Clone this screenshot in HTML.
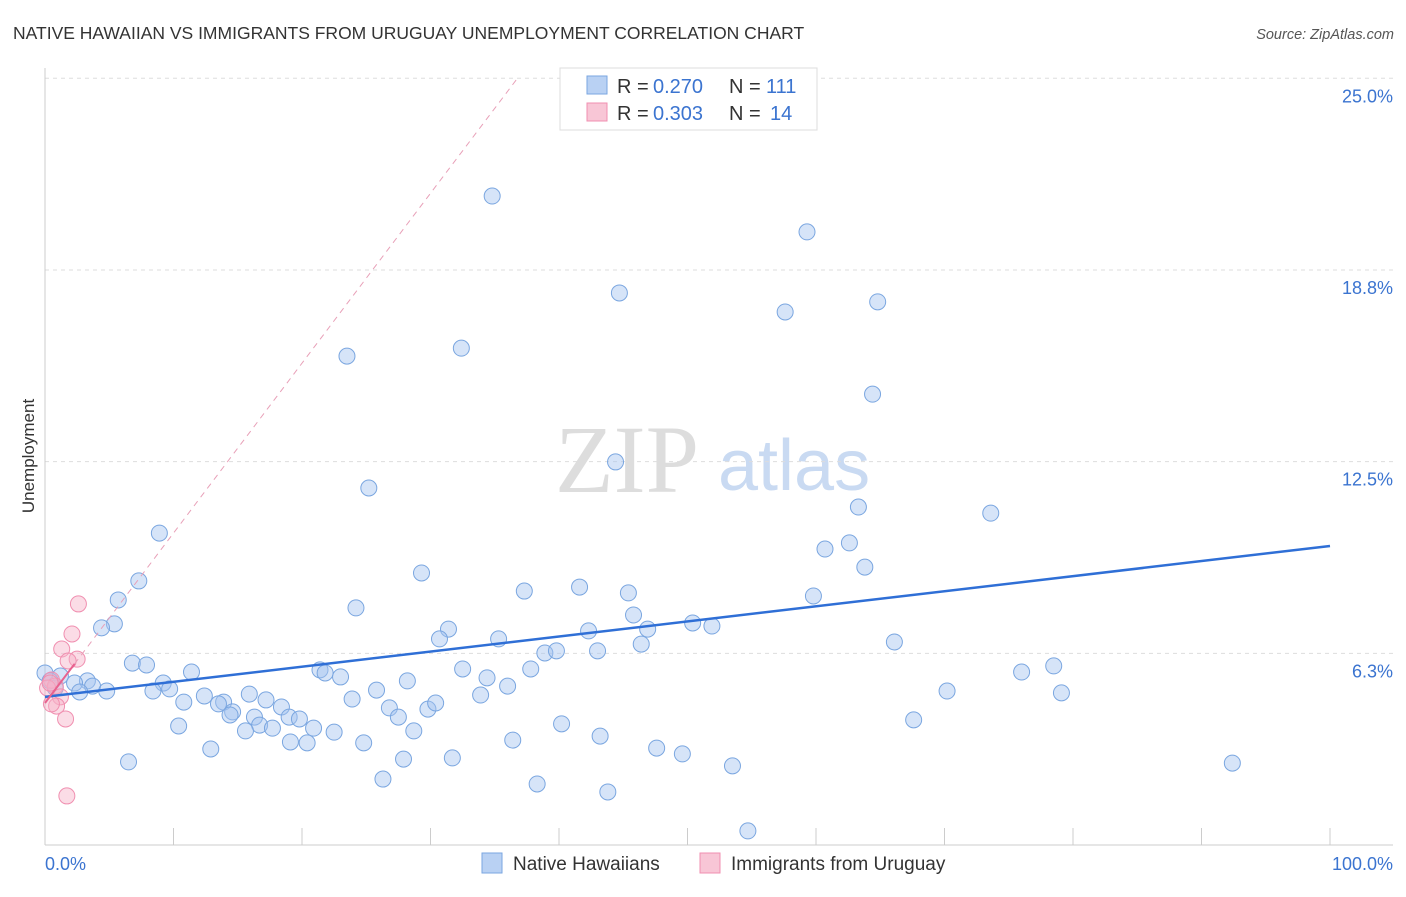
<!DOCTYPE html>
<html><head><meta charset="utf-8"><style>
body{margin:0;background:#fff;font-family:"Liberation Sans",sans-serif;}
</style></head><body>
<svg width="1406" height="892" xmlns="http://www.w3.org/2000/svg" id="svg">
<text x="13" y="39" font-size="17.5" fill="#333">NATIVE HAWAIIAN VS IMMIGRANTS FROM URUGUAY UNEMPLOYMENT CORRELATION CHART</text>
<text x="1394" y="39" font-size="14.5" fill="#555" font-style="italic" text-anchor="end">Source: ZipAtlas.com</text>
<text x="34" y="456" font-size="17" fill="#333" text-anchor="middle" transform="rotate(-90 34 456)">Unemployment</text>
<text x="555" y="492" font-size="96" fill="#ddd" font-family="Liberation Serif,serif">ZIP</text>
<text x="718" y="490" font-size="72" fill="#c9daf2">atlas</text>
<g id="grid"></g><g id="axes"></g><g id="marks"></g>
<g>
<rect x="560" y="68" width="257" height="62" fill="#fff" stroke="#ddd"/>
<rect x="587" y="76" width="20" height="18" fill="#b9d1f3" stroke="#7aa6e0"/>
<rect x="587" y="103" width="20" height="18" fill="#f8c6d6" stroke="#f08fb0"/>
<text x="617" y="93" font-size="20" fill="#333">R =</text>
<text x="653" y="93" font-size="20" fill="#3b74d0">0.270</text>
<text x="729" y="93" font-size="20" fill="#333">N =</text>
<text x="766" y="93" font-size="20" fill="#3b74d0">111</text>
<text x="617" y="120" font-size="20" fill="#333">R =</text>
<text x="653" y="120" font-size="20" fill="#3b74d0">0.303</text>
<text x="729" y="120" font-size="20" fill="#333">N =</text>
<text x="770" y="120" font-size="20" fill="#3b74d0">14</text>
</g>
<g>
<rect x="482" y="853" width="20" height="20" fill="#b9d1f3" stroke="#7aa6e0"/>
<text x="513" y="870" font-size="19" fill="#333">Native Hawaiians</text>
<rect x="700" y="853" width="20" height="20" fill="#f8c6d6" stroke="#f08fb0"/>
<text x="731" y="870" font-size="19" fill="#333">Immigrants from Uruguay</text>
</g>
</svg>
<script>
const yTicks=[6.25,12.5,18.75,25];
const yTickLabels=["6.3%","12.5%","18.8%","25.0%"];
const blueX=[34.8,59.3,44.7,57.6,64.8,23.5,32.4,64.4,44.4,25.2,63.3,73.6,8.9,60.7,62.6,63.8,29.3,7.3,37.3,41.6,45.4,5.7,59.8,24.2,45.8,5.4,4.4,31.4,30.7,35.3,42.3,50.4,51.9,46.9,46.4,66.1,38.9,39.8,43.0,6.8,7.9,11.4,21.4,21.8,23.0,32.5,37.8,34.4,76.0,78.5,1.2,3.3,2.3,3.7,2.7,4.8,9.2,8.4,9.7,10.8,12.4,15.9,17.2,23.9,25.8,28.2,33.9,36.0,70.2,79.1,13.9,13.5,14.6,18.4,26.8,27.5,29.8,30.4,16.3,19.0,19.8,14.4,16.7,17.7,20.9,22.5,15.6,10.4,28.7,40.2,67.6,12.9,19.1,20.4,24.8,36.4,43.2,47.6,49.6,6.5,27.9,31.7,53.5,92.4,26.3,38.3,43.8,54.7,0.0,0.4,0.8];
const blueY=[21.16,19.99,18.0,17.38,17.71,15.94,16.2,14.7,12.49,11.64,11.02,10.82,10.17,9.65,9.85,9.06,8.87,8.61,8.28,8.41,8.22,7.99,8.12,7.73,7.5,7.21,7.08,7.04,6.72,6.72,6.98,7.24,7.14,7.04,6.55,6.62,6.26,6.33,6.33,5.93,5.87,5.64,5.71,5.61,5.48,5.74,5.74,5.45,5.64,5.84,5.51,5.35,5.28,5.18,4.99,5.02,5.28,5.02,5.09,4.66,4.86,4.92,4.73,4.76,5.05,5.35,4.89,5.18,5.02,4.96,4.66,4.6,4.34,4.5,4.47,4.17,4.43,4.63,4.17,4.17,4.11,4.24,3.91,3.81,3.81,3.68,3.72,3.88,3.72,3.95,4.08,3.13,3.36,3.33,3.33,3.42,3.55,3.16,2.97,2.71,2.8,2.84,2.58,2.67,2.15,1.99,1.73,0.46,5.61,5.35,5.12];
const pinkX=[2.6,2.1,1.3,2.5,1.8,0.5,0.8,0.2,1.2,0.9,0.5,1.6,1.7,0.4];
const pinkY=[7.86,6.88,6.39,6.06,6.0,5.38,5.18,5.12,4.83,4.53,4.6,4.11,1.6,5.28];
const blueTrend=[4.83,9.75];
const pinkTrend=[4.63,0.554];
const X=v=>45+v*12.85, Y=v=>845-v*30.67;
const NS="http://www.w3.org/2000/svg";
function mk(t,a,p){const e=document.createElementNS(NS,t);for(const k in a)e.setAttribute(k,a[k]);p.appendChild(e);return e;}
const grid=document.getElementById('grid'),axes=document.getElementById('axes'),marks=document.getElementById('marks');
yTicks.forEach((t,i)=>{
 const l=mk('line',{x1:45,x2:1393,y1:Y(t),y2:Y(t),stroke:'#ddd','stroke-dasharray':'4,4'},grid);
 
 
 const tx=mk('text',{x:1393,y:Y(t)+24,'font-size':18,fill:'#3b74d0','text-anchor':'end'},axes);
 tx.textContent=yTickLabels[i];
 
 
});
mk('line',{x1:45,x2:45,y1:68,y2:845,stroke:'#ccc'},axes);
mk('line',{x1:45,x2:1393,y1:845,y2:845,stroke:'#ccc'},axes);
for(let i=0;i<=10;i++){const t=mk('line',{x1:X(i*10),x2:X(i*10),y1:828,y2:845,stroke:'#ccc'},axes);
 
 }
let a=mk('text',{x:45,y:870,'font-size':18,fill:'#3b74d0'},axes);a.textContent="0.0%";

a=mk('text',{x:1393,y:870,'font-size':18,fill:'#3b74d0','text-anchor':'end'},axes);a.textContent="100.0%";

blueX.forEach((x,i)=>{const c=mk('circle',{cx:X(x),cy:Y(blueY[i]),r:8,fill:'rgba(164,196,240,0.45)',stroke:'#7aa6e0','stroke-width':1},marks);
 
 });
pinkX.forEach((x,i)=>{const c=mk('circle',{cx:X(x),cy:Y(pinkY[i]),r:8,fill:'rgba(246,178,200,0.45)',stroke:'#f08fb0','stroke-width':1},marks);
 
 });
let l=mk('line',{x1:X(0),y1:Y(blueTrend[0]),x2:X(100),y2:Y(blueTrend[1]),stroke:'#2f6fd6','stroke-width':2.5},marks);

const pe=(25-pinkTrend[0])/pinkTrend[1];
l=mk('line',{x1:X(2.3),y1:Y(pinkTrend[0]+pinkTrend[1]*2.3),x2:X(pe),y2:Y(25),stroke:'#e8a0b8','stroke-width':1,'stroke-dasharray':'6,5'},marks);

l=mk('line',{x1:X(0),y1:Y(pinkTrend[0]),x2:X(2.3),y2:Y(pinkTrend[0]+pinkTrend[1]*2.3),stroke:'#e8628f','stroke-width':2},marks);

</script>
</body></html>
